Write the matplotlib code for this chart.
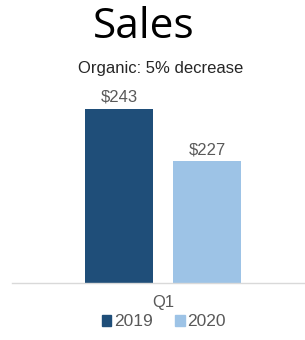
import matplotlib.pyplot as plt
from matplotlib.patches import Patch

# Sales, Q1 comparison
quarter = "Q1"
years = ["2019", "2020"]
sales = [243, 227]
colors = ["#1F4E79", "#9DC3E6"]
grey = "#595959"

fig = plt.figure(figsize=(3.05, 3.4), dpi=100)
ax = fig.add_axes([12 / 305, 57 / 340, 293 / 305, 183 / 340])

pos = [0, 1]
bars = ax.bar(pos, sales, width=0.773, color=colors, bottom=0)
for b, v in zip(bars, sales):
    ax.text(b.get_x() + b.get_width() / 2, v + 1.2, f"${v}", ha="center", va="bottom",
            fontsize=12, color=grey, family="Liberation Sans", clip_on=False)

ax.set_ylim(190.2, 245.6)
ax.set_xlim(-1.216, 2.114)
ax.set_yticks([])
ax.set_xticks([0.5])
ax.set_xticklabels([quarter], fontsize=12, color=grey, family="Liberation Sans")
ax.tick_params(axis="x", length=0, pad=9)
for s in ["top", "right", "left"]:
    ax.spines[s].set_visible(False)
ax.spines["bottom"].set_color("#D9D9D9")
ax.spines["bottom"].set_linewidth(1)

handles = [Patch(color=c, label=y) for c, y in zip(colors, years)]
fig.legend(handles=handles, loc="center", bbox_to_anchor=(164 / 305, 1 - 322 / 340),
           ncol=2, frameon=False, handlelength=0.55, handleheight=0.55, handletextpad=0.15,
           columnspacing=1.3, prop={"family": "Liberation Sans", "size": 12.5},
           labelcolor=grey)

fig.text(144 / 305, 1 - 27 / 340, "Sales", ha="center", va="center", fontsize=30.5,
         family="Open Sans", color="black")
fig.text(161 / 305, 1 - 68 / 340, "Organic: 5% decrease", ha="center", va="center",
         fontsize=12, family="Liberation Sans", color="#262626")

fig.savefig("out.png", dpi=100)
